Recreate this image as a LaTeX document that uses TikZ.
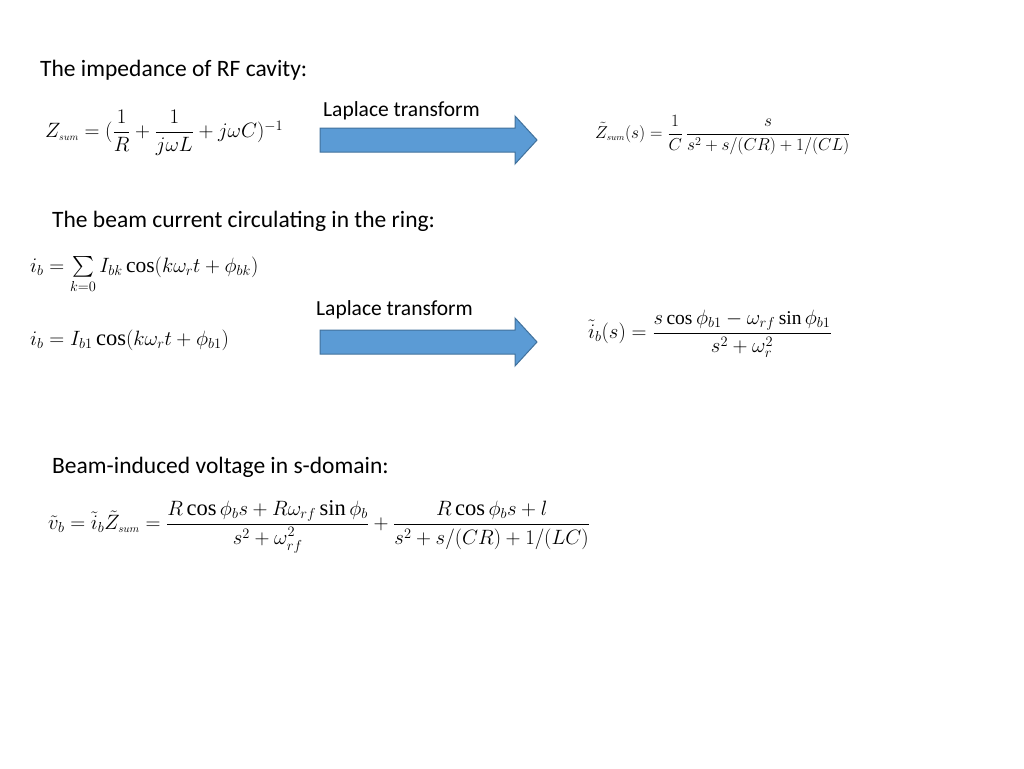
\documentclass[tikz,border=0pt]{standalone}
\usepackage{amsmath}
\usepackage{fontspec}
\setmainfont{Carlito}
\setmathrm{Liberation Serif}
\begin{document}
\begin{tikzpicture}[x=1pt,y=-1pt,
  lbl/.style={anchor=west,inner sep=0,font=\fontsize{23.5}{28}\selectfont},
  eq/.style={anchor=west,inner sep=0}]
\useasboundingbox (0,0) rectangle (1024,768);
\definecolor{arr}{HTML}{5B9BD5}\definecolor{arrd}{HTML}{41719C}
\node[lbl] (t1) at (40,70) {The impedance of RF cavity:};
\node[eq,font=\fontsize{20}{24}\selectfont] (e1) at (45,133) {$Z_{\scriptscriptstyle sum}=(\dfrac{1}{R}+\dfrac{1}{j\omega L}+j\omega C)^{-1}$};
\node[lbl,font=\fontsize{21.5}{26}\selectfont] (lt1) at (323,111) {Laplace transform};
\filldraw[fill=arr,draw=arrd,line width=1pt] (320,128) -- (515,128) -- (515,116) -- (537,140) -- (515,164) -- (515,152) -- (320,152) -- cycle;
\node[eq,font=\fontsize{18.5}{22}\selectfont] (e2) at (595,135) {$\tilde{Z}_{\scriptscriptstyle sum}(s)=\dfrac{1}{C}\,\dfrac{s}{s^2+s/(CR)+1/(CL)}$};
\node[lbl] (t2) at (52,221) {The beam current circulating in the ring:};
\node[eq,font=\fontsize{21.5}{24}\selectfont] (e3) at (30,275) {$i_b=\sum\limits_{k=0} I_{bk}\cos(k\omega_r t+\phi_{bk})$};
\node[eq,font=\fontsize{22.5}{26}\selectfont] (e4) at (30,340) {$i_b=I_{b1}\cos(k\omega_r t+\phi_{b1})$};
\node[lbl,font=\fontsize{21.5}{26}\selectfont] (lt2) at (316,310) {Laplace transform};
\filldraw[fill=arr,draw=arrd,line width=1pt] (320,330) -- (515,330) -- (515,318) -- (537,342) -- (515,366) -- (515,354) -- (320,354) -- cycle;
\node[eq,font=\fontsize{19.5}{22}\selectfont] (e5) at (588,334) {$\tilde{i}_b(s)=\dfrac{s\cos\phi_{b1}-\omega_{rf}\sin\phi_{b1}}{s^2+\omega_r^2}$};
\node[lbl] (t3) at (52,467) {Beam-induced voltage in s-domain:};
\node[eq,font=\fontsize{22.5}{26}\selectfont] (e6) at (48,527) {$\tilde{v}_b=\tilde{i}_b\tilde{Z}_{\scriptscriptstyle sum}=\dfrac{R\cos\phi_b s+R\omega_{rf}\sin\phi_b}{s^2+\omega_{rf}^2}+\dfrac{R\cos\phi_b s+l}{s^2+s/(CR)+1/(LC)}$};
\end{tikzpicture}
\end{document}
